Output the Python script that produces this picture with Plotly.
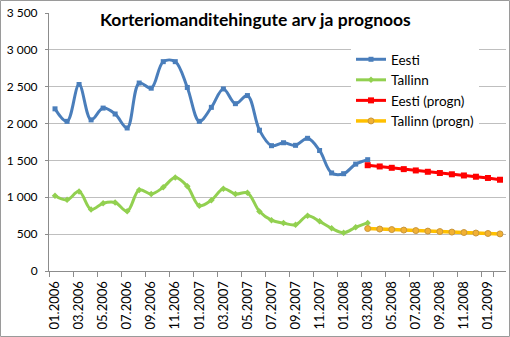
import plotly.graph_objects as go

# Monthly categories 01.2006 .. 02.2009
months = [f"{m:02d}.{y}" for y in (2006, 2007, 2008, 2009) for m in range(1, 13)][:38]

eesti = [2200, 2030, 2530, 2050, 2210, 2130, 1940, 2550, 2480, 2840,
         2840, 2490, 2030, 2220, 2470, 2270, 2380, 1910, 1700, 1740,
         1705, 1800, 1635, 1330, 1320, 1450, 1510]
tallinn = [1020, 965, 1080, 835, 920, 930, 810, 1100, 1045, 1135,
           1268, 1150, 885, 960, 1116, 1045, 1060, 808, 690, 650,
           628, 750, 674, 580, 520, 592, 652]
eesti_progn = [1435, 1418, 1400, 1382, 1364, 1346, 1329, 1312, 1296, 1279, 1262, 1238]
tallinn_progn = [576, 569, 562, 555, 548, 541, 535, 528, 522, 515, 509, 503]

hist_x = months[:len(eesti)]
progn_x = months[len(eesti) - 1:len(eesti) - 1 + len(eesti_progn)]

title_text = "Korteriomanditehingute arv ja prognoos"
FONT = "Lato"

fig = go.Figure()
fig.add_trace(go.Scatter(
    x=hist_x, y=eesti, name="Eesti", mode="lines+markers", legendgroup="a",
    line=dict(color="#4A7EBB", width=3, shape="spline", smoothing=1),
    marker=dict(symbol="square", size=5, color="#4A7EBB")))
fig.add_trace(go.Scatter(
    x=hist_x, y=tallinn, name="Tallinn", mode="lines+markers", legendgroup="b",
    line=dict(color="#92D050", width=3, shape="spline", smoothing=1),
    marker=dict(symbol="diamond", size=5, color="#92D050")))
fig.add_trace(go.Scatter(
    x=progn_x, y=eesti_progn, name="Eesti (progn)", mode="lines+markers", legendgroup="c",
    line=dict(color="#FF0000", width=3),
    marker=dict(symbol="square", size=6, color="#FF0000")))
fig.add_trace(go.Scatter(
    x=progn_x, y=tallinn_progn, name="Tallinn (progn)", mode="lines+markers", legendgroup="d",
    line=dict(color="#FFC000", width=3.5),
    marker=dict(symbol="circle", size=6, color="#F2B134",
                line=dict(color="#C9963A", width=1))))

W, H = 510, 337
ml, mr, mt, mb = 49, 4, 13, 66
pw, ph = W - ml - mr, H - mt - mb

fig.update_layout(
    width=W, height=H,
    margin=dict(l=ml, r=mr, t=mt, b=mb),
    paper_bgcolor="white", plot_bgcolor="white",
    separators=", ",
    font=dict(family=FONT, color="#000000"),
    showlegend=True,
    legend=dict(x=(351 - ml) / pw, xanchor="left", y=1 - (44 - mt) / ph, yanchor="top",
                bgcolor="white", font=dict(family=FONT, size=13.5, color="#000000"),
                tracegroupgap=0, itemwidth=30),
    xaxis=dict(type="category", categoryorder="array", categoryarray=months,
               range=[-0.5, len(months) - 0.5],
               tickvals=months[::2], tickson="boundaries", tickangle=-90,
               ticks="outside", ticklen=5, tickcolor="#8C8C8C",
               ticklabelstandoff=4,
               showgrid=False, showline=True, linecolor="#8C8C8C", linewidth=1,
               tickfont=dict(family=FONT, size=13, color="#000000"), fixedrange=True),
    yaxis=dict(range=[0, 3500], tickvals=list(range(0, 3501, 500)), tickformat=",d",
               ticks="outside", ticklen=3, tickcolor="#8C8C8C",
               ticklabelstandoff=5,
               showgrid=True, gridcolor="#BFBFBF", gridwidth=1,
               showline=True, linecolor="#8C8C8C", linewidth=1, zeroline=False,
               tickfont=dict(family=FONT, size=12, color="#000000"), fixedrange=True),
    annotations=[dict(text=f"<b>{title_text}</b>", xref="paper", yref="paper",
                      x=(255 - ml) / pw, y=1 - (19 - mt) / ph,
                      xanchor="center", yanchor="middle", showarrow=False,
                      bgcolor="white", borderpad=2,
                      font=dict(family=FONT, size=17.5, color="#000000"))],
    shapes=[dict(type="rect", xref="paper", yref="paper",
                 x0=(0.5 - ml) / pw, x1=(W - 0.5 - ml) / pw,
                 y0=-(mb - 0.5) / ph, y1=1 + (mt - 0.5) / ph,
                 line=dict(color="#9A9A9A", width=1), layer="above")],
)

fig.write_html("out.html")
